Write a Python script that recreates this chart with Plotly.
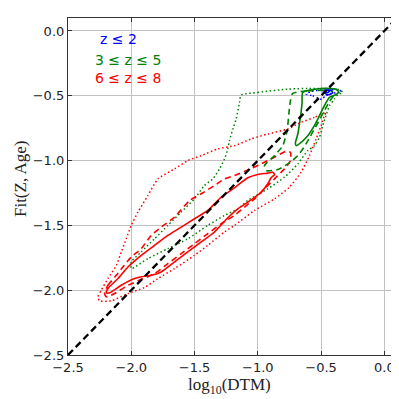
import plotly.graph_objects as go

# ---- data (log10(DTM), Fit(Z, Age)) contour paths ----
red_solid_x = [-2.197, -2.184, -2.105, -2.026, -1.921, -1.816, -1.711, -1.605, -1.5, -1.395, -1.289, -1.184,
               -1.079, -1.0, -0.921, -0.882, -0.868, -0.895, -0.921, -0.974, -1.079, -1.158, -1.237, -1.342,
               -1.447, -1.553, -1.658, -1.763, -1.842, -1.921, -1.974, -2.079, -2.171, -2.197]
red_solid_y = [-2.020, -1.987, -1.910, -1.821, -1.731, -1.654, -1.577, -1.513, -1.449, -1.385, -1.282, -1.21,
               -1.133, -1.108, -1.097, -1.09, -1.108, -1.133, -1.179, -1.244, -1.321, -1.372, -1.441, -1.551,
               -1.628, -1.705, -1.782, -1.859, -1.885, -1.897, -1.910, -1.962, -2.020, -2.020]

red_dash_x = [-2.211, -2.184, -2.118, -2.066, -2.0, -1.921, -1.842, -1.763, -1.658, -1.539, -1.447, -1.342,
              -1.263, -1.184, -1.079, -0.974, -0.868, -0.776, -0.742, -0.742, -0.789, -0.868, -0.947, -1.026,
              -1.105, -1.184, -1.289, -1.395, -1.5, -1.605, -1.711, -1.816, -1.921, -2.026, -2.132, -2.197, -2.211]
red_dash_y = [-2.026, -1.962, -1.885, -1.821, -1.744, -1.679, -1.577, -1.513, -1.436, -1.308, -1.256, -1.192,
              -1.141, -1.115, -1.072, -1.026, -0.974, -0.928, -0.936, -1.0, -1.064, -1.141, -1.218, -1.295,
              -1.359, -1.423, -1.487, -1.564, -1.641, -1.718, -1.795, -1.872, -1.918, -1.962, -2.026, -2.051, -2.026]

red_dot_x = [-0.461, -0.553, -0.658, -0.763, -0.921, -1.053, -1.184, -1.316, -1.447, -1.553, -1.658, -1.789,
             -1.868, -1.947, -2.0, -2.039, -2.079, -2.118, -2.184, -2.237, -2.263, -2.25, -2.158, -2.026,
             -1.895, -1.789, -1.658, -1.5, -1.395, -1.263, -1.184, -1.026, -0.868, -0.75, -0.658, -0.592,
             -0.539, -0.5, -0.474, -0.461]
red_dot_y = [-0.628, -0.667, -0.705, -0.756, -0.795, -0.833, -0.885, -0.910, -0.962, -1.0, -1.064, -1.141,
             -1.269, -1.397, -1.5, -1.603, -1.705, -1.808, -1.910, -2.0, -2.051, -2.082, -2.082, -2.026,
             -1.979, -1.910, -1.833, -1.731, -1.654, -1.551, -1.5, -1.385, -1.295, -1.205, -1.090, -0.962,
             -0.833, -0.731, -0.654, -0.628]

green_solid_x = [-0.645, -0.5, -0.382, -0.363, -0.382, -0.434, -0.474, -0.513, -0.553, -0.605, -0.658, -0.697,
                 -0.703, -0.684, -0.671, -0.658, -0.650, -0.645]
green_solid_y = [-0.474, -0.444, -0.449, -0.469, -0.492, -0.513, -0.577, -0.654, -0.731, -0.808, -0.859, -0.885,
                 -0.865, -0.795, -0.718, -0.628, -0.551, -0.474]

green_dash_x = [-0.724, -0.605, -0.421, -0.395, -0.434, -0.474, -0.513, -0.553, -0.592, -0.632, -0.684, -0.763,
                -0.842, -0.934, -0.947, -0.868, -0.803, -0.768, -0.755, -0.742, -0.724]
green_dash_y = [-0.482, -0.462, -0.462, -0.487, -0.544, -0.615, -0.687, -0.756, -0.826, -0.892, -0.962, -1.026,
                -1.069, -1.077, -1.038, -0.962, -0.885, -0.769, -0.641, -0.538, -0.482]

green_dot_x = [-1.132, -1.0, -0.763, -0.605, -0.368, -0.329, -0.368, -0.395, -0.434, -0.461, -0.487, -0.513,
               -0.553, -0.605, -0.684, -0.789, -0.921, -1.079, -1.158, -1.263, -1.395, -1.553, -1.711, -1.868,
               -2.0, -2.0, -1.921, -1.816, -1.711, -1.605, -1.5, -1.421, -1.355, -1.303, -1.263, -1.237,
               -1.224, -1.197, -1.171, -1.145, -1.132]
green_dot_y = [-0.495, -0.474, -0.449, -0.444, -0.449, -0.474, -0.492, -0.526, -0.577, -0.654, -0.731, -0.821,
               -0.885, -0.923, -1.026, -1.128, -1.218, -1.308, -1.372, -1.423, -1.5, -1.603, -1.679, -1.756,
               -1.833, -1.782, -1.705, -1.603, -1.5, -1.397, -1.295, -1.192, -1.141, -1.064, -0.987, -0.910,
               -0.846, -0.756, -0.679, -0.551, -0.495]

blue_solid_x = [-0.468, -0.453, -0.434, -0.458, -0.468]
blue_solid_y = [-0.462, -0.477, -0.464, -0.456, -0.462]

blue_dash_x = [-0.487, -0.447, -0.408, -0.395, -0.447, -0.487]
blue_dash_y = [-0.467, -0.492, -0.477, -0.462, -0.456, -0.467]

blue_dot_x = [-0.618, -0.566, -0.526, -0.495, -0.468, -0.421, -0.342, -0.355, -0.421, -0.5, -0.579, -0.618]
blue_dot_y = [-0.487, -0.5, -0.518, -0.528, -0.503, -0.482, -0.472, -0.454, -0.454, -0.456, -0.467, -0.487]

one_to_one = [-2.5, 0.06]

x_ticks = [-2.5, -2.0, -1.5, -1.0, -0.5, 0.0]
y_ticks = [-2.5, -2.0, -1.5, -1.0, -0.5, 0.0]
x_range = [-2.5, 0.1]
y_range = [-2.5, 0.1]

legend_labels = ["z ≤ 2", "3 ≤ z ≤ 5", "6 ≤ z ≤ 8"]
legend_colors = ["#0000ff", "#008000", "#ff0000"]

# ---- figure ----
DASH = "6px,4px"
DOT = "1.5px,2.5px"

fig = go.Figure()

contours = [
    (red_dot_x, red_dot_y, "#ff0000", DOT, 1.5),
    (green_dot_x, green_dot_y, "#008000", DOT, 1.5),
    (blue_dot_x, blue_dot_y, "#0000ff", DOT, 1.5),
    (red_dash_x, red_dash_y, "#ff0000", DASH, 1.6),
    (green_dash_x, green_dash_y, "#008000", DASH, 1.6),
    (blue_dash_x, blue_dash_y, "#0000ff", DASH, 1.6),
    (red_solid_x, red_solid_y, "#ff0000", "solid", 1.6),
    (green_solid_x, green_solid_y, "#008000", "solid", 1.6),
    (blue_solid_x, blue_solid_y, "#0000ff", "solid", 1.6),
]
for xs, ys, col, dash, w in contours:
    fig.add_trace(go.Scatter(x=xs, y=ys, mode="lines",
                             line=dict(color=col, dash=dash, width=w, shape="spline", smoothing=0.6),
                             hoverinfo="skip", showlegend=False))

fig.add_trace(go.Scatter(x=one_to_one, y=one_to_one, mode="lines",
                         line=dict(color="black", dash="7px,4px", width=2.3),
                         hoverinfo="skip", showlegend=False))

axis_common = dict(
    showgrid=True, gridcolor="#c2c2c2", gridwidth=1.2,
    zeroline=False, showline=True, linecolor="#333333", linewidth=1.2,
    mirror="ticks", ticks="inside", ticklen=4, tickwidth=1, tickcolor="#333333",
    tickfont=dict(family="DejaVu Sans", size=13, color="#222222"),
    layer="below traces",
)
fig.update_xaxes(range=x_range, tickvals=x_ticks,
                 ticktext=[f"{v:.1f}".replace("-", "−") for v in x_ticks], **axis_common)
fig.update_yaxes(range=y_range, tickvals=y_ticks,
                 ticktext=[f"{v:.1f}".replace("-", "−") for v in y_ticks], **axis_common)

legend_pos = [(0.092, 0.9386), (0.076, 0.876), (0.076, 0.822)]
for (lx, ly), lab, col in zip(legend_pos, legend_labels, legend_colors):
    fig.add_annotation(x=lx, y=ly, xref="paper", yref="paper", text=lab, showarrow=False,
                       xanchor="left", yanchor="middle",
                       font=dict(family="DejaVu Sans", size=14, color=col))

fig.add_annotation(x=0.49, y=-0.093, xref="paper", yref="paper", text="log<sub>10</sub>(DTM)",
                   showarrow=False, xanchor="center", yanchor="middle",
                   font=dict(family="Liberation Serif", size=17, color="#222222"))
fig.add_annotation(x=-0.146, y=0.525, xref="paper", yref="paper", text="Fit(Z, Age)",
                   showarrow=False, xanchor="center", yanchor="middle", textangle=-90,
                   font=dict(family="Liberation Serif", size=17, color="#222222"))

fig.update_layout(width=399, height=399, margin=dict(l=60, r=10, t=10, b=52),
                  plot_bgcolor="white", paper_bgcolor="white", showlegend=False)

fig.write_html("out.html")
